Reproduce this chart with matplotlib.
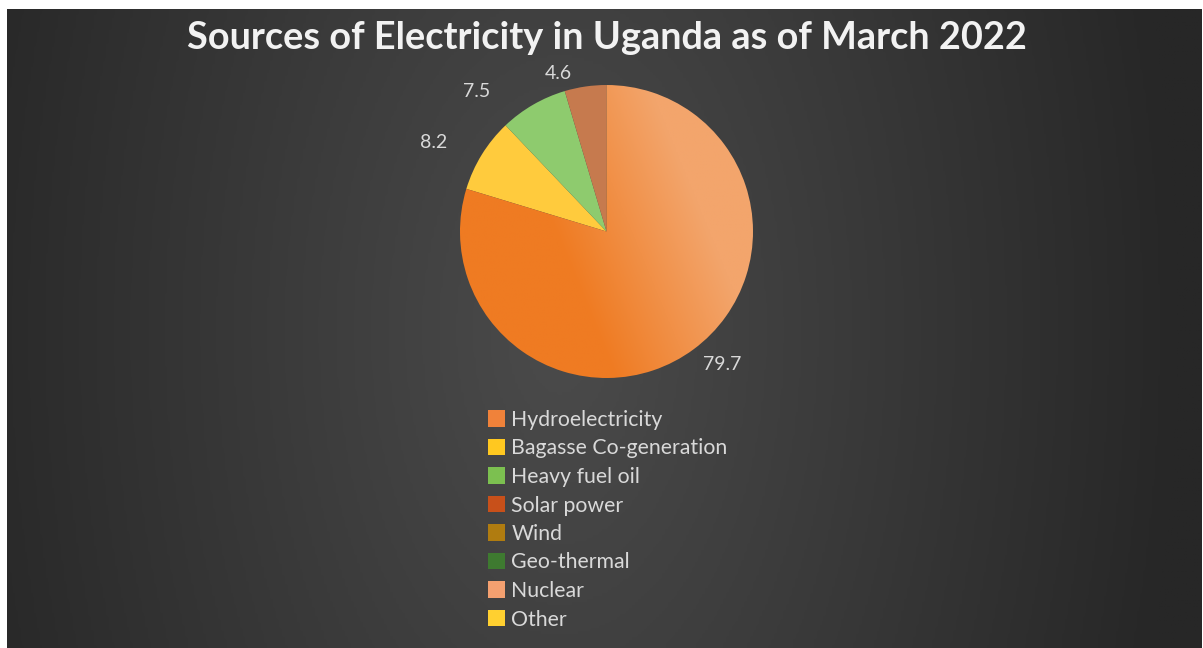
import numpy as np
import matplotlib.pyplot as plt
from matplotlib.patches import Patch
from matplotlib.colors import LinearSegmentedColormap

# data
fontes = ['Hydroelectricity', 'Bagasse Co-generation', 'Heavy fuel oil', 'Solar power',
          'Wind', 'Geo-thermal', 'Nuclear', 'Other']
valores = [79.7, 8.2, 7.5, 4.6, 0, 0, 0, 0]
titulo = 'Sources of Electricity in Uganda as of March 2022'

# cores
cores_pie = ['#f0852f', '#ffcb3d', '#8ecb6e', '#c67a4e']
cores_leg = ['#f0823a', '#ffc820', '#7cc050', '#c8501a', '#b07c10', '#3e7a30', '#f4a070', '#ffd030']
# ajuste das etiquetas (raio, deslocamento do angulo)
lab_r = [1.20, 1.33, 1.30, 1.13]
lab_da = [4.5, 4.4, 12.8, 8.7]

plt.rcParams['font.family'] = ['Lato', 'DejaVu Sans']

W, H = 1203, 648
fig = plt.figure(figsize=(W / 100, H / 100), dpi=100)
fig.patch.set_facecolor('white')

# fundo com gradiente
bg = fig.add_axes([7 / W, 0, (W - 8) / W, (H - 9) / H])
bg.axis('off')
xx, yy = np.meshgrid(np.linspace(7, W - 1, 400), np.linspace(9, H, 220))
d = np.sqrt(((xx - 560) / 620.0) ** 2 + ((yy - 330) / 1100.0) ** 2)
d = np.clip(d, 0, 1)
cmapbg = LinearSegmentedColormap.from_list('bg', ['#4b4b4b', '#272727'])
bg.imshow(d, cmap=cmapbg, aspect='auto', extent=[0, 1, 0, 1], vmin=0, vmax=1)
bg.set_xlim(0, 1)
bg.set_ylim(0, 1)

# pizza
cx, cy, r = 606.5, 231.5, 146.5
ax = fig.add_axes([(cx - r) / W, (H - cy - r) / H, 2 * r / W, 2 * r / H])
vals = [v for v in valores if v > 0]
wedges, _ = ax.pie(vals, colors=cores_pie, startangle=90, counterclock=False,
                   wedgeprops={'linewidth': 0})
ax.set_xlim(-1, 1)
ax.set_ylim(-1, 1)

# gradiente na fatia maior
gx, gy = np.meshgrid(np.linspace(-1, 1, 200), np.linspace(-1, 1, 200))
t = np.clip((gx * 0.85 + gy * 0.35 + 0.3) / 0.9, 0, 1)
cmaphy = LinearSegmentedColormap.from_list('hy', ['#ef7b22', '#f3a56c'])
im = ax.imshow(t, cmap=cmaphy, extent=[-1, 1, -1, 1], origin='lower', zorder=1.5)
im.set_clip_path(wedges[0])
wedges[0].set_facecolor('none')

for i, w in enumerate(wedges):
    ang = np.deg2rad((w.theta1 + w.theta2) / 2 + lab_da[i])
    ax.text(lab_r[i] * np.cos(ang), lab_r[i] * np.sin(ang), f'{vals[i]}',
            ha='center', va='center', fontsize=14, color='#d9d9d9', clip_on=False)

fig.text(cx / W, 1 - 38 / H, titulo, ha='center', va='center',
         fontsize=27.3, fontweight='bold', color='#f2f2f2')

handles = [Patch(facecolor=c, edgecolor='none') for c in cores_leg]
fig.legend(handles, fontes, loc='upper left', bbox_to_anchor=(488 / W, 1 - 410 / H),
           frameon=False, fontsize=15.3, handlelength=0.8, handleheight=0.8,
           handletextpad=0.3, labelspacing=0.40, borderpad=0, borderaxespad=0,
           labelcolor='#d9d9d9')

plt.savefig('out.png', dpi=100)
